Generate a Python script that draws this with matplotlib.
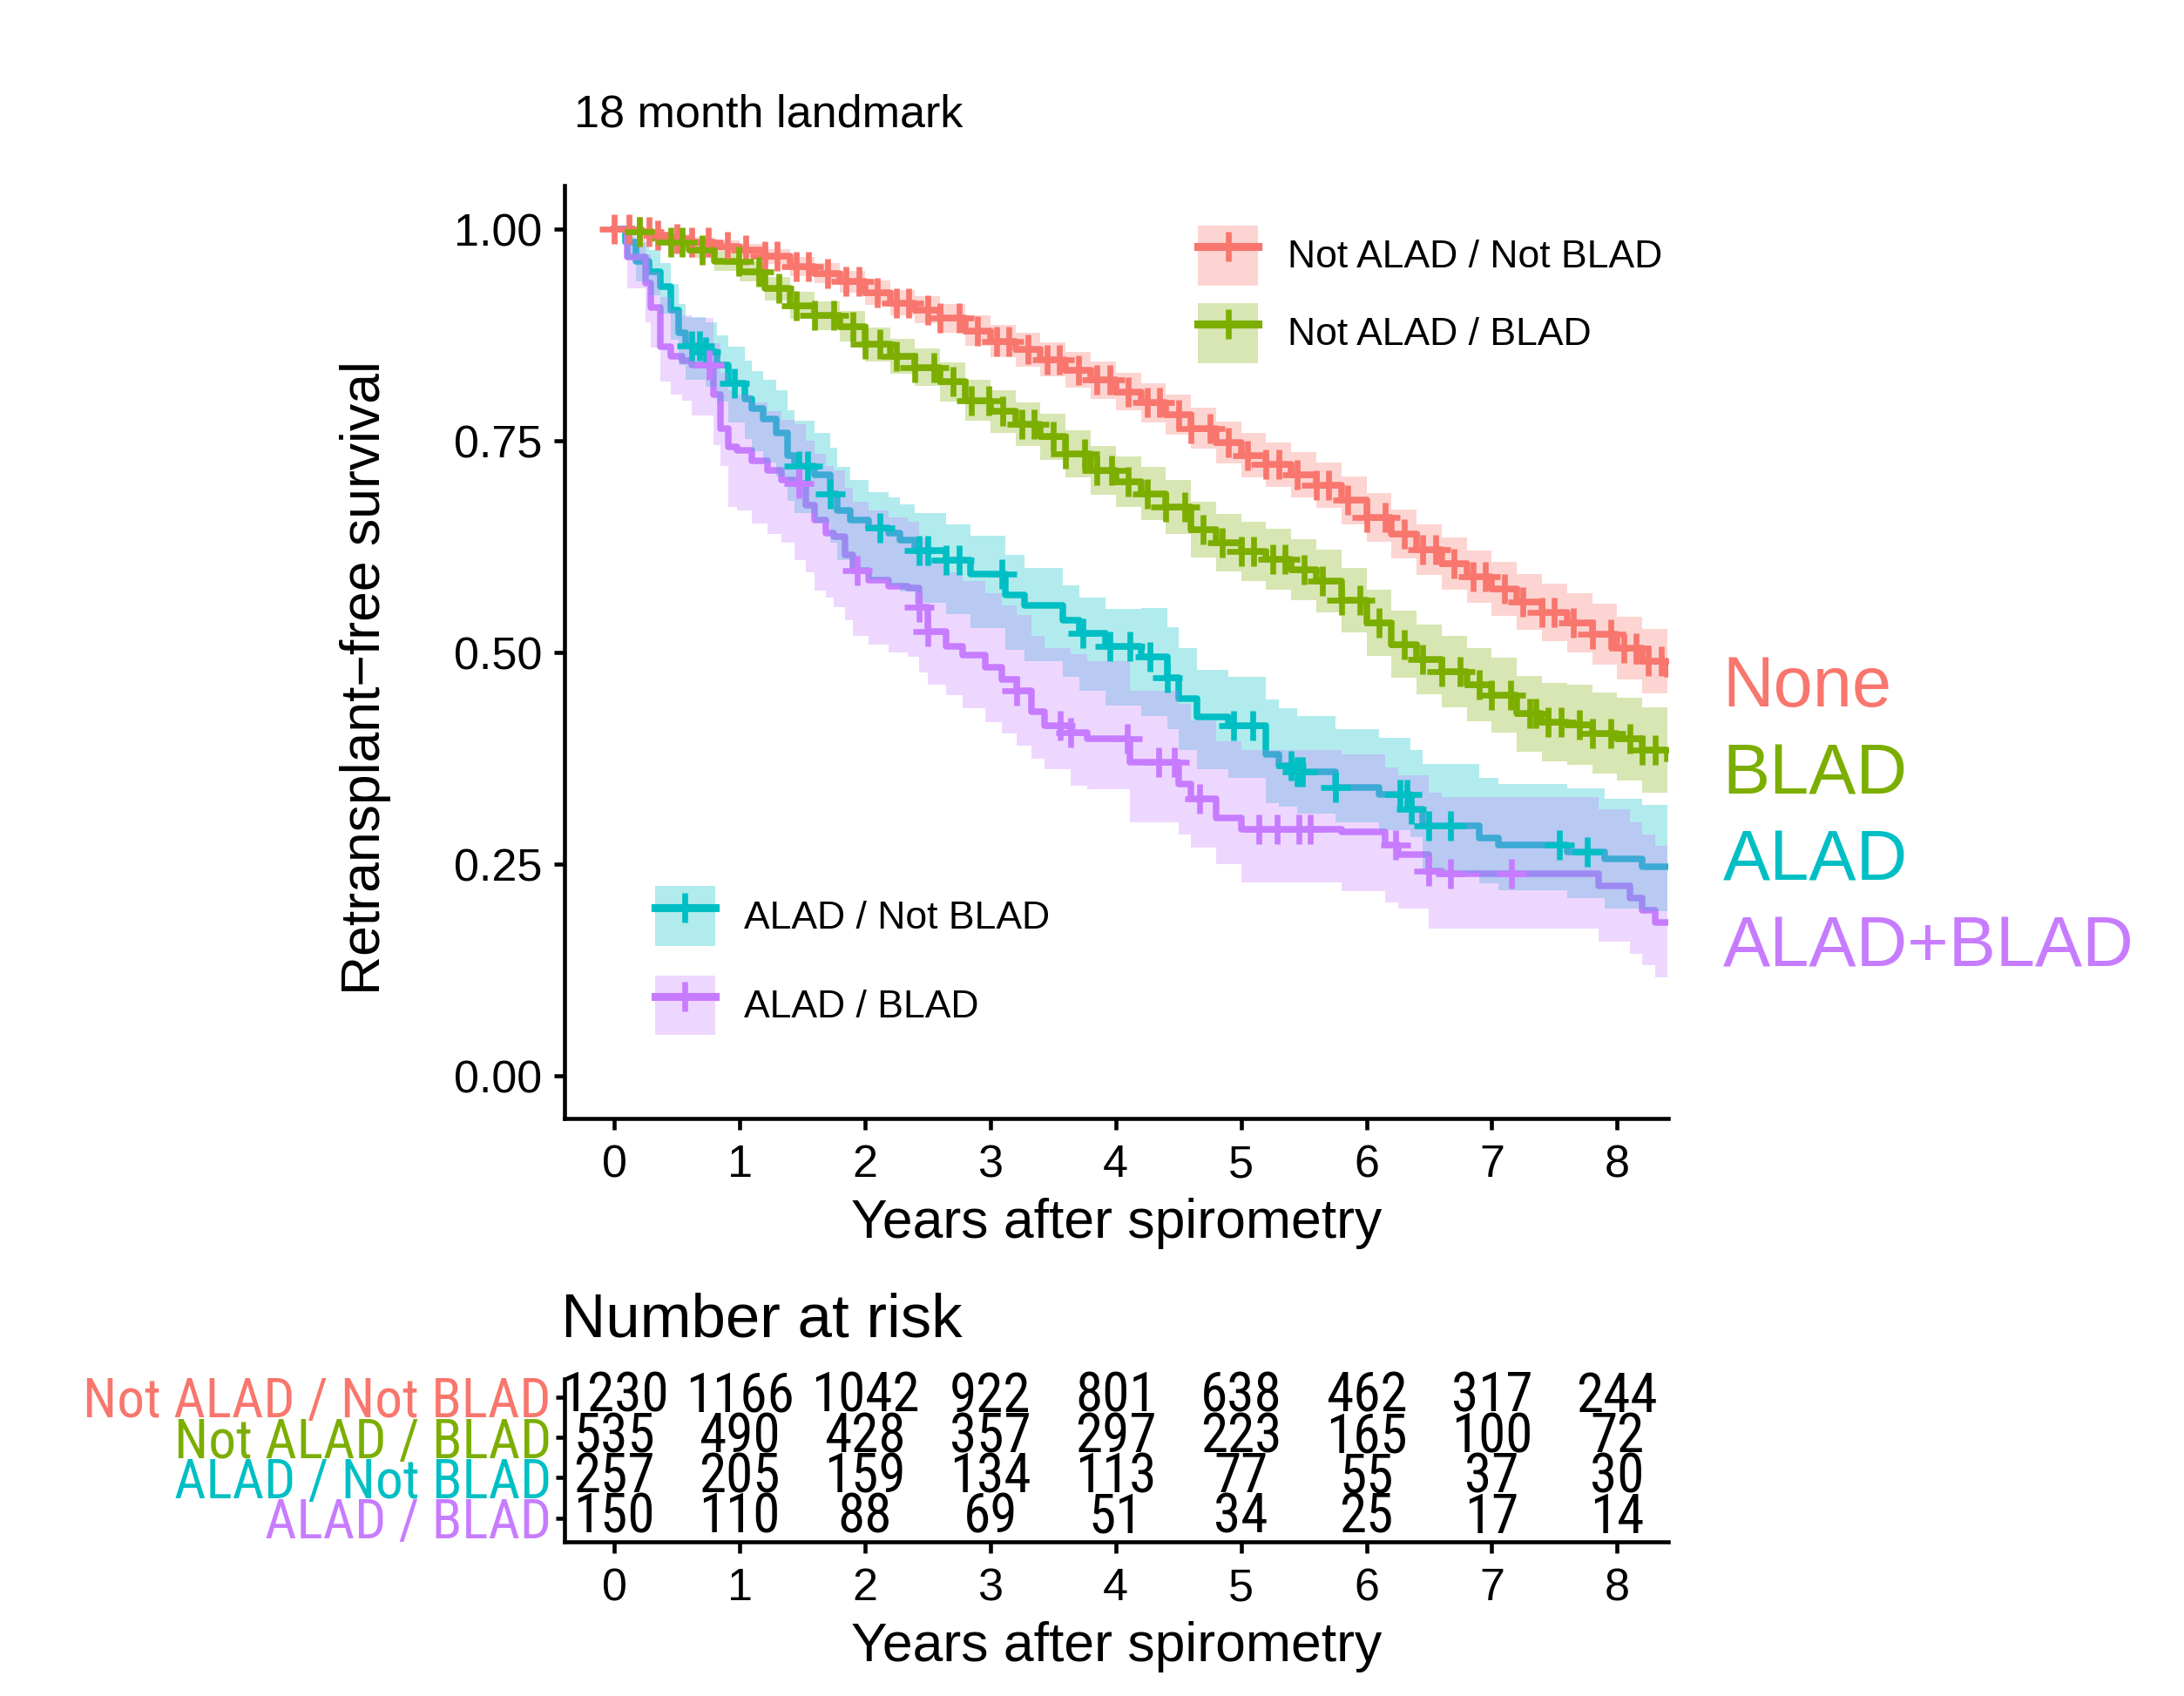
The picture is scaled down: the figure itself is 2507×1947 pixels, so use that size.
import numpy as np
import matplotlib
matplotlib.use("Agg")
import matplotlib.pyplot as plt
from matplotlib import font_manager
from matplotlib.patches import Patch
from matplotlib.lines import Line2D

plt.rcParams["font.family"] = ["Liberation Sans", "DejaVu Sans"]

# ---- data ----
groups = ["Not ALAD / Not BLAD", "Not ALAD / BLAD", "ALAD / Not BLAD", "ALAD / BLAD"]
short_labels = ["None", "BLAD", "ALAD", "ALAD+BLAD"]
colors = ["#F8766D", "#7CAE00", "#00BFC4", "#C77CFF"]

red_t = [0, 0.15, 0.3, 0.45, 0.6, 0.8, 1.0, 1.2, 1.4, 1.6, 1.8, 2.0, 2.2, 2.4, 2.6, 2.8, 3.0, 3.2, 3.4, 3.6, 3.8,
         4.0, 4.2, 4.4, 4.6, 4.8, 5.0, 5.2, 5.4, 5.6, 5.8, 6.0, 6.2, 6.4, 6.6, 6.8, 7.0, 7.2, 7.4, 7.6, 7.8, 8.0, 8.2, 8.4]
red_s = [1.000, 0.997, 0.993, 0.989, 0.985, 0.980, 0.975, 0.968, 0.956, 0.948, 0.938, 0.925, 0.913, 0.905, 0.895,
         0.880, 0.868, 0.858, 0.846, 0.834, 0.822, 0.808, 0.795, 0.781, 0.765, 0.748, 0.733, 0.722, 0.710, 0.698,
         0.680, 0.660, 0.640, 0.622, 0.605, 0.590, 0.575, 0.560, 0.548, 0.535, 0.522, 0.505, 0.490, 0.475]
red_lo = [1.000, 0.995, 0.989, 0.984, 0.979, 0.973, 0.967, 0.959, 0.945, 0.936, 0.925, 0.911, 0.898, 0.889, 0.878,
          0.862, 0.849, 0.838, 0.826, 0.813, 0.800, 0.786, 0.772, 0.757, 0.741, 0.723, 0.707, 0.696, 0.683, 0.671,
          0.652, 0.631, 0.611, 0.592, 0.574, 0.559, 0.543, 0.527, 0.514, 0.500, 0.486, 0.468, 0.452, 0.435]
red_hi = [1.000, 0.999, 0.997, 0.994, 0.991, 0.987, 0.983, 0.977, 0.967, 0.960, 0.951, 0.939, 0.928, 0.921, 0.912,
          0.898, 0.887, 0.878, 0.866, 0.855, 0.844, 0.830, 0.818, 0.805, 0.789, 0.773, 0.759, 0.748, 0.737, 0.725,
          0.708, 0.689, 0.669, 0.652, 0.636, 0.621, 0.607, 0.593, 0.582, 0.570, 0.558, 0.542, 0.528, 0.515]
red_cens = [0.0, 0.12, 0.2, 0.28, 0.35, 0.5, 0.62, 0.75, 0.9, 1.05, 1.2, 1.3, 1.45, 1.55, 1.7, 1.85, 1.95, 2.1,
            2.25, 2.35, 2.5, 2.6, 2.75, 2.9, 3.05, 3.15, 3.3, 3.45, 3.55, 3.7, 3.85, 3.95, 4.1, 4.25, 4.35, 4.5,
            4.6, 4.75, 4.9, 5.05, 5.2, 5.3, 5.45, 5.6, 5.7, 5.85, 6.0, 6.15, 6.3, 6.45, 6.55, 6.7, 6.85, 6.95,
            7.1, 7.25, 7.4, 7.5, 7.65, 7.8, 7.95, 8.05, 8.15, 8.25, 8.35]

green_t = red_t
green_s = [1.000, 0.997, 0.990, 0.985, 0.975, 0.962, 0.950, 0.930, 0.910, 0.898, 0.885, 0.864, 0.850, 0.837, 0.820,
           0.798, 0.785, 0.770, 0.755, 0.735, 0.715, 0.702, 0.688, 0.672, 0.645, 0.630, 0.620, 0.610, 0.598, 0.585,
           0.562, 0.535, 0.510, 0.492, 0.478, 0.462, 0.450, 0.428, 0.418, 0.415, 0.405, 0.398, 0.385, 0.375]
green_lo = [1.000, 0.994, 0.985, 0.978, 0.966, 0.951, 0.938, 0.916, 0.894, 0.881, 0.867, 0.844, 0.829, 0.815, 0.797,
            0.774, 0.760, 0.744, 0.728, 0.707, 0.686, 0.672, 0.657, 0.640, 0.612, 0.596, 0.585, 0.574, 0.562, 0.548,
            0.524, 0.496, 0.470, 0.451, 0.436, 0.419, 0.406, 0.383, 0.372, 0.368, 0.357, 0.349, 0.335, 0.324]
green_hi = [1.000, 1.000, 0.995, 0.992, 0.984, 0.973, 0.962, 0.944, 0.926, 0.915, 0.903, 0.884, 0.871, 0.859, 0.843,
            0.822, 0.810, 0.796, 0.782, 0.763, 0.744, 0.732, 0.719, 0.704, 0.678, 0.664, 0.655, 0.646, 0.634, 0.622,
            0.600, 0.574, 0.550, 0.533, 0.520, 0.505, 0.494, 0.473, 0.464, 0.462, 0.453, 0.447, 0.435, 0.426]
green_cens = [0.2, 0.45, 0.54, 0.7, 0.99, 1.15, 1.31, 1.45, 1.6, 1.75, 1.9, 2.0, 2.12, 2.25, 2.4, 2.55, 2.7, 2.85,
              2.99, 3.1, 3.25, 3.35, 3.5, 3.6, 3.75, 3.85, 3.97, 4.1, 4.25, 4.4, 4.55, 4.7, 4.85, 5.0, 5.1, 5.25,
              5.35, 5.5, 5.65, 5.8, 5.95, 6.1, 6.3, 6.45, 6.6, 6.75, 6.9, 7.0, 7.15, 7.3, 7.35, 7.45, 7.55, 7.7,
              7.8, 7.95, 8.1, 8.2, 8.3]

cyan_t = [0.00, 0.09, 0.17, 0.28, 0.37, 0.45, 0.51, 0.57, 0.73, 0.82, 0.91, 1.04, 1.10, 1.19, 1.29, 1.38, 1.44,
          1.60, 1.72, 1.78, 1.88, 2.03, 2.19, 2.28, 2.40, 2.65, 2.84, 3.12, 3.27, 3.58, 3.71, 3.92, 4.20, 4.41,
          4.50, 4.65, 4.90, 5.20, 5.30, 5.45, 5.75, 6.10, 6.35, 6.45, 6.90, 7.05, 7.60, 7.90, 8.20, 8.40]
cyan_s = [1.000, 0.985, 0.962, 0.950, 0.932, 0.905, 0.878, 0.862, 0.855, 0.840, 0.818, 0.800, 0.788, 0.776, 0.760,
          0.733, 0.720, 0.710, 0.688, 0.668, 0.657, 0.647, 0.641, 0.633, 0.621, 0.609, 0.593, 0.568, 0.556, 0.538,
          0.523, 0.507, 0.495, 0.470, 0.446, 0.424, 0.414, 0.380, 0.367, 0.359, 0.341, 0.333, 0.315, 0.296, 0.281,
          0.273, 0.265, 0.257, 0.247, 0.247]
cyan_lo = [1.000, 0.965, 0.938, 0.922, 0.900, 0.870, 0.840, 0.822, 0.814, 0.797, 0.772, 0.752, 0.738, 0.725, 0.708,
           0.679, 0.665, 0.654, 0.630, 0.609, 0.598, 0.587, 0.580, 0.572, 0.559, 0.546, 0.529, 0.503, 0.490, 0.471,
           0.455, 0.438, 0.425, 0.410, 0.385, 0.362, 0.352, 0.322, 0.318, 0.310, 0.300, 0.290, 0.282, 0.240, 0.228,
           0.220, 0.210, 0.198, 0.195, 0.195]
cyan_hi = [1.000, 0.998, 0.985, 0.975, 0.960, 0.935, 0.912, 0.896, 0.890, 0.875, 0.861, 0.845, 0.833, 0.822, 0.810,
           0.786, 0.774, 0.760, 0.742, 0.719, 0.704, 0.690, 0.683, 0.675, 0.665, 0.652, 0.638, 0.615, 0.600, 0.580,
           0.565, 0.552, 0.553, 0.530, 0.505, 0.480, 0.472, 0.445, 0.434, 0.425, 0.410, 0.400, 0.385, 0.369, 0.352,
           0.345, 0.340, 0.328, 0.320, 0.320]
cyan_cens = [0.62, 0.68, 0.73, 0.96, 1.47, 1.54, 1.72, 2.12, 2.43, 2.5, 2.65, 2.75, 3.09, 3.74, 3.95, 4.11, 4.27,
             4.41, 4.94, 5.09, 5.4, 5.45, 5.49, 5.75, 6.27, 6.32, 6.36, 6.5, 6.67, 7.54, 7.76]

purple_t = [0.00, 0.10, 0.25, 0.29, 0.37, 0.45, 0.54, 0.62, 0.79, 0.85, 0.91, 0.98, 1.10, 1.22, 1.33, 1.44, 1.53,
            1.60, 1.69, 1.75, 1.84, 1.90, 2.03, 2.19, 2.34, 2.43, 2.50, 2.65, 2.78, 2.96, 3.09, 3.21, 3.33, 3.43,
            3.64, 3.77, 4.11, 4.50, 4.60, 4.80, 5.00, 5.80, 6.15, 6.25, 6.50, 6.60, 7.85, 8.10, 8.20, 8.30, 8.40]
purple_s = [1.000, 0.967, 0.936, 0.908, 0.861, 0.850, 0.845, 0.840, 0.805, 0.765, 0.743, 0.739, 0.727, 0.715, 0.704,
            0.700, 0.674, 0.657, 0.641, 0.637, 0.615, 0.597, 0.586, 0.578, 0.576, 0.554, 0.525, 0.507, 0.497, 0.483,
            0.468, 0.455, 0.430, 0.414, 0.406, 0.399, 0.371, 0.345, 0.328, 0.305, 0.292, 0.288, 0.273, 0.262, 0.242,
            0.239, 0.225, 0.210, 0.196, 0.181, 0.181]
purple_lo = [1.000, 0.930, 0.890, 0.860, 0.820, 0.805, 0.798, 0.780, 0.745, 0.720, 0.672, 0.668, 0.653, 0.640, 0.630,
             0.609, 0.595, 0.573, 0.565, 0.554, 0.538, 0.520, 0.510, 0.500, 0.495, 0.477, 0.462, 0.450, 0.434, 0.418,
             0.405, 0.390, 0.375, 0.363, 0.343, 0.339, 0.300, 0.285, 0.270, 0.250, 0.229, 0.219, 0.205, 0.198, 0.174,
             0.174, 0.159, 0.144, 0.131, 0.117, 0.117]
purple_hi = [1.000, 0.990, 0.970, 0.950, 0.920, 0.905, 0.898, 0.895, 0.865, 0.830, 0.810, 0.805, 0.795, 0.785, 0.775,
             0.770, 0.750, 0.735, 0.720, 0.715, 0.695, 0.678, 0.668, 0.660, 0.655, 0.635, 0.612, 0.595, 0.585, 0.570,
             0.556, 0.545, 0.520, 0.505, 0.498, 0.490, 0.455, 0.440, 0.420, 0.395, 0.385, 0.380, 0.365, 0.355, 0.335,
             0.330, 0.315, 0.300, 0.285, 0.272, 0.272]
purple_cens = [0.76, 1.47, 1.94, 2.43, 2.5, 3.21, 3.56, 3.64, 4.09, 4.34, 4.47, 4.67, 5.14, 5.29, 5.46, 5.55,
               6.23, 6.5, 6.67, 7.16]

risk_times = [0, 1, 2, 3, 4, 5, 6, 7, 8]
risk_red = [1230, 1166, 1042, 922, 801, 638, 462, 317, 244]
risk_green = [535, 490, 428, 357, 297, 223, 165, 100, 72]
risk_cyan = [257, 205, 159, 134, 113, 77, 55, 37, 30]
risk_purple = [150, 110, 88, 69, 51, 34, 25, 17, 14]

curves = [
    (red_t, red_s, red_lo, red_hi, red_cens),
    (green_t, green_s, green_lo, green_hi, green_cens),
    (cyan_t, cyan_s, cyan_lo, cyan_hi, cyan_cens),
    (purple_t, purple_s, purple_lo, purple_hi, purple_cens),
]
risk_rows = [risk_red, risk_green, risk_cyan, risk_purple]
label_y = [0.458, 0.355, 0.253, 0.151]

# the risk table in the reference uses a condensed face; use one if it is installed
installed = {f.name for f in font_manager.fontManager.ttflist}
narrow = [f for f in ("Liberation Sans Narrow", "Arial Narrow", "Roboto Condensed") if f in installed]
if narrow:
    table_font, table_size = [narrow[0], "Liberation Sans"], 15.2
else:
    table_font, table_size = ["Liberation Sans", "DejaVu Sans"], 13

# ---- figure ----
fig = plt.figure(figsize=(2507 / 300, 1947 / 300), dpi=300)
ax = fig.add_axes([0.2583, 0.3405, 0.5057, 0.5503])
ax_r = fig.add_axes([0.2583, 0.0909, 0.5057, 0.0961])

def step_at(t, s, x):
    idx = np.searchsorted(np.asarray(t), np.asarray(x), side="right") - 1
    return np.asarray(s)[np.clip(idx, 0, len(s) - 1)]

# lines first, ribbons over them, censor marks on top (survminer order)
for (t, s, lo, hi, cens), c in zip(curves, colors):
    ax.step(t, s, where="post", color=c, lw=1.8, zorder=2)
for (t, s, lo, hi, cens), c in zip(curves, colors):
    ax.fill_between(t, lo, hi, step="post", color=c, alpha=0.3, lw=0, zorder=3)
for (t, s, lo, hi, cens), c in zip(curves, colors):
    ax.plot(cens, step_at(t, s, cens), ls="none", marker="+", ms=8, mew=1.6, color=c, zorder=4)

ax.set_xlim(-0.4, 8.41)
ax.set_ylim(-0.05, 1.052)
ax.set_xticks(range(0, 9))
ax.set_yticks([0, 0.25, 0.5, 0.75, 1.0])
ax.set_yticklabels(["0.00", "0.25", "0.50", "0.75", "1.00"])
ax.set_xlabel("Years after spirometry", fontsize=15, labelpad=3)
ax.set_ylabel("Retransplant\u2212free survival", fontsize=15)
ax.yaxis.set_label_coords(-0.157, 0.472)

for a in (ax, ax_r):
    for side in ("top", "right"):
        a.spines[side].set_visible(False)
    for side in ("left", "bottom"):
        a.spines[side].set_linewidth(1.1)
    a.tick_params(direction="out", length=3, width=1.1, labelsize=12.5, colors="black")
ax.tick_params(axis="x", pad=4)
ax.tick_params(axis="y", pad=3)

fig.text(0.263, 0.932, "18 month landmark", fontsize=12.5, va="center", ha="left")

# legends
def handle(c):
    return (Patch(facecolor=c, alpha=0.3, edgecolor="none"),
            Line2D([], [], color=c, lw=2.2, marker="+", ms=8, mew=1.6))

leg_kw = dict(frameon=False, fontsize=10.7, handlelength=1.55, handleheight=2.0, handletextpad=0.75,
              borderpad=0, borderaxespad=0, loc="upper left")
leg1 = ax.legend([handle(colors[0]), handle(colors[1])], groups[:2], bbox_to_anchor=(0.574, 0.957),
                 labelspacing=0.45, **leg_kw)
ax.add_artist(leg1)
ax.legend([handle(colors[2]), handle(colors[3])], groups[2:], bbox_to_anchor=(0.082, 0.249),
          labelspacing=0.75, **leg_kw)

# right-hand group labels
for lab, y, c in zip(short_labels, label_y, colors):
    ax.text(1.049, y, lab, transform=ax.get_yaxis_transform(), color=c, fontsize=19.5,
            va="center", ha="left", clip_on=False)

# ---- risk table ----
n = len(risk_rows)
for i, row in enumerate(risk_rows):
    yy = n - i
    for x, v in zip(risk_times, row):
        ax_r.text(x, yy, str(v), ha="center", va="center", fontsize=table_size, family=table_font)
ax_r.set_xlim(-0.4, 8.41)
ax_r.set_ylim(0.414, 4.448)
ax_r.set_xticks(range(0, 9))
ax_r.set_yticks([n - i for i in range(n)])
ax_r.set_yticklabels(groups, fontsize=table_size, family=table_font)
for lbl, c in zip(ax_r.get_yticklabels(), colors):
    lbl.set_color(c)
ax_r.tick_params(axis="y", pad=1.0, length=2.5)
ax_r.tick_params(axis="x", pad=4)
ax_r.set_xlabel("Years after spirometry", fontsize=15, labelpad=3)
ax_r.set_title("Number at risk", fontsize=17, loc="left", pad=11.5, x=-0.003)

fig.savefig("out.png", dpi=300)
